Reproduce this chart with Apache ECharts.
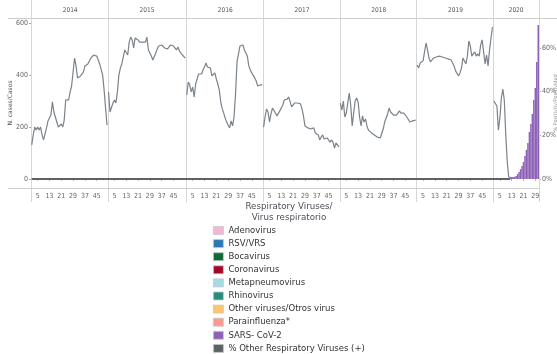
<!DOCTYPE html>
<html><head><meta charset="utf-8">
<script src="https://cdn.jsdelivr.net/npm/echarts@6/dist/echarts.min.js"></script>
<style>html,body{margin:0;padding:0;background:#fff}#c{width:557px;height:354px}</style>
</head><body><div id="c"></div>
<script>
// ---------------- DATA ----------------
const years = [2014, 2015, 2016, 2017, 2018, 2019, 2020];
const weeksPerYear = [52, 53, 52, 52, 52, 52, 31];
const tickWeeks = [5, 13, 21, 29, 37, 45];
const leftTicks = [0, 200, 400, 600];
const rightTicks = [0, 20, 40, 60];

// % line (right axis), one array per year
const pct2014 = [15.6,20.2,23.8,22.4,23.8,22.4,23.8,20.2,17.9,17.9,23.4,26.6,26.1,29.3,35.3,30.7,30.2,26.1,23.8,24.3,25.2,23.8,27.0,36.2,35.7,36.2,39.9,42.6,49.0,55.4,51.8,46.3,45.4,47.2,46.3,49.0,51.8,52.2,52.7,53.6,55.4,55.4,56.8,57.7,56.3,54.5,52.7,51.8,47.6,40.8,32.5,24.7];
const pct2015 = [39.9,30.7,31.6,34.8,36.2,34.8,39.9,47.6,50.8,52.7,55.9,59.1,58.6,56.8,62.7,65.0,63.7,60.0,64.6,63.7,63.7,62.7,62.3,62.7,61.8,62.7,65.0,59.1,58.2,56.3,54.5,53.6,57.7,59.6,60.9,60.0,61.4,60.9,60.0,60.5,59.6,59.1,61.4,60.5,60.9,61.4,59.1,60.5,58.6,59.1,56.8,57.7,55.4];
const pct2016 = [38.5,44.4,43.1,39.9,42.1,37.6,43.5,45.8,48.1,49.0,48.1,49.9,51.3,53.1,51.3,52.2,50.8,47.2,47.2,48.6,45.8,43.5,40.8,35.3,32.1,30.2,27.9,26.1,24.7,23.4,26.6,24.3,28.4,38.9,53.6,52.7,60.9,60.9,61.4,59.1,57.7,56.3,51.8,49.9,48.6,48.1,46.3,44.9,42.6,42.1,43.1,43.1];
const pct2017 = [23.8,28.4,32.1,30.7,26.1,29.8,32.5,32.1,30.2,28.9,29.8,31.2,31.6,33.9,36.2,36.2,36.6,37.6,35.3,33.0,33.9,34.8,33.9,34.8,35.3,34.4,32.1,28.9,24.3,23.4,23.4,23.8,22.9,22.4,23.4,21.1,21.5,20.2,17.9,19.2,20.2,18.3,18.3,18.8,17.9,16.9,17.9,16.9,14.2,16.5,15.6,14.7];
const pct2018 = [34.8,31.6,35.7,28.4,30.2,29.8,39.4,33.9,24.3,30.2,35.7,37.1,35.3,28.4,24.3,28.9,26.1,27.5,24.3,22.4,21.5,21.1,21.1,20.2,19.7,19.2,19.2,18.8,19.7,22.9,26.1,26.1,29.8,32.5,30.7,29.8,29.3,29.3,29.3,29.8,31.2,30.2,30.2,30.2,29.3,28.4,27.5,26.1,25.7,26.6,27.0,27.0];
const pct2019 = [52.2,50.8,53.1,53.6,54.1,58.2,62.3,59.1,55.4,53.6,54.5,55.4,55.0,55.9,55.9,56.3,56.8,55.9,55.9,55.4,55.0,55.0,55.4,54.5,53.6,51.8,49.5,48.6,47.2,48.6,50.8,55.4,56.3,52.7,56.3,63.2,60.9,56.3,55.9,58.2,56.3,57.3,56.3,61.4,63.7,58.2,52.7,56.8,51.8,59.1,64.6,69.6];
const pct2020 = [35.7,36.2,33.4,22.4,27.9,37.1,41.2,36.2,20.2,7.8,0.9,0.5,0.5,0.5,0.5];
const pctByYear = [pct2014, pct2015, pct2016, pct2017, pct2018, pct2019, pct2020];

// SARS-CoV-2 bars (left axis), 2020 from week 11
const sarsStartWeek2020 = 11;
const sarsCov2 = [2,4,4,6,8,12,19,27,38,50,65,88,112,138,181,212,250,304,350,450,592];

// zero series (% Other Respiratory Viruses) up to 2020 week 12
const otherZeroEndWeek2020 = 12;

const legendNames = ['Adenovirus','RSV/VRS','Bocavirus','Coronavirus','Metapneumovirus','Rhinovirus','Other viruses/Otros virus','Parainfluenza*','SARS- CoV-2','% Other Respiratory Viruses (+)'];
const legendColors = ['#f4b6d2','#2a78b5','#0b6a36','#9e0a28','#a3dbe8','#2a8c7c','#fcc56e','#fb9a92','#8d62b6','#5e6166'];

// ---------------- BUILD ----------------
const categories = [];
const yearStart = [];
years.forEach((y, i) => {
  yearStart.push(categories.length);
  for (let w = 1; w <= weeksPerYear[i]; w++) categories.push(y + '-' + w);
});
const total = categories.length;
const weekOf = c => +c.split('-')[1];
const yearOf = c => +c.split('-')[0];

const narrow = "Liberation Sans Narrow, DejaVu Sans Condensed, sans-serif";
const wide = "DejaVu Sans, sans-serif";

const series = [];
pctByYear.forEach((arr, i) => {
  const data = categories.map((c, idx) => {
    const k = idx - yearStart[i];
    return (k >= 0 && k < arr.length) ? arr[k] : '-';
  });
  series.push({
    name: 'pct' + years[i], type: 'line', xAxisIndex: 0, yAxisIndex: 1,
    data, showSymbol: false, symbol: 'none', connectNulls: false,
    lineStyle: { color: '#7b838b', width: 1.2 }, itemStyle: { color: '#7b838b' },
    z: 3, silent: true
  });
});

const i2020 = years.indexOf(2020);
const sarsData = categories.map((c, idx) => {
  const k = idx - yearStart[i2020] - (sarsStartWeek2020 - 1);
  return (k >= 0 && k < sarsCov2.length) ? sarsCov2[k] : '-';
});
const zeroData = categories.map((c, idx) => (idx < yearStart[i2020] + otherZeroEndWeek2020) ? 0 : '-');

legendNames.forEach((n, i) => {
  if (n === 'SARS- CoV-2') {
    series.push({ name: n, type: 'bar', xAxisIndex: 0, yAxisIndex: 0, data: sarsData,
      barCategoryGap: '0%', itemStyle: { color: legendColors[i] }, z: 4, silent: true });
  } else if (n === '% Other Respiratory Viruses (+)') {
    series.push({ name: n, type: 'line', xAxisIndex: 0, yAxisIndex: 0, data: zeroData,
      showSymbol: false, symbol: 'none', lineStyle: { color: legendColors[i], width: 2 },
      itemStyle: { color: legendColors[i] }, z: 2, silent: true });
  } else {
    // virus types with no visible marks in this period: legend entries only
    series.push({ name: n, type: 'line', xAxisIndex: 0, yAxisIndex: 0, data: [],
      itemStyle: { color: legendColors[i] }, lineStyle: { color: legendColors[i] } });
  }
});

const option = {
  animation: false,
  backgroundColor: '#fff',
  title: {
    text: 'Respiratory Viruses/\nVirus respiratorio',
    left: 289, top: 201.5, textAlign: 'center', padding: 0,
    textStyle: { fontFamily: wide, fontSize: 8.7, fontWeight: 'normal', color: '#4a4f57', lineHeight: 10.5 }
  },
  legend: {
    data: legendNames, orient: 'vertical', left: 213, top: 225.5, padding: 0,
    icon: 'rect', itemWidth: 10, itemHeight: 8, itemGap: 3.1,
    itemStyle: { borderColor: '#c8c8c8', borderWidth: 0.8 },
    textStyle: { fontFamily: wide, fontSize: 8.5, color: '#333', lineHeight: 10 },
    selectedMode: false
  },
  grid: { left: 31, right: 18, top: 18, bottom: 166, containLabel: false, outerBoundsMode: 'none' },
  xAxis: [{
    type: 'category', data: categories, position: 'bottom', boundaryGap: true,
    axisLine: { show: false },
    axisTick: { show: true, alignWithLabel: true, length: 2, lineStyle: { color: '#bbb' },
      interval: (idx, v) => tickWeeks.includes(weekOf(v)) },
    axisLabel: { interval: 0, margin: 5, fontSize: 7, fontFamily: narrow, color: '#666',
      formatter: v => tickWeeks.includes(weekOf(v)) ? String(weekOf(v)) : '' },
    splitLine: { show: false }
  }, {
    type: 'category', data: categories, position: 'top', boundaryGap: true,
    axisLine: { show: false }, axisTick: { show: false },
    axisLabel: { interval: 0, margin: 4, fontSize: 6.5, fontFamily: narrow, color: '#555',
      formatter: v => {
        const y = yearOf(v), i = years.indexOf(y);
        return weekOf(v) === Math.floor(weeksPerYear[i] / 2) + 1 ? String(y) : '';
      } }
  }],
  yAxis: [{
    type: 'value', min: -34.6, max: 619.2, position: 'left',
    name: 'N. cases/Casos', nameLocation: 'middle', nameRotate: 90, nameGap: 18, nameMoveOverlap: false,
    nameTextStyle: { fontFamily: wide, fontSize: 6, color: '#555' },
    axisLine: { show: false },
    axisTick: { show: true, length: 2, customValues: leftTicks, lineStyle: { color: '#aaa' } },
    axisLabel: { customValues: leftTicks, fontSize: 7, fontFamily: narrow, color: '#666', margin: 3 },
    splitLine: { show: false }
  }, {
    type: 'value', min: -4.12, max: 73.74, position: 'right',
    name: '% Positivity/Positividad', nameLocation: 'middle', nameRotate: 90, nameGap: 14, nameMoveOverlap: false,
    nameTextStyle: { fontFamily: wide, fontSize: 5, color: '#999' },
    axisLine: { show: false },
    axisTick: { show: true, length: 2, inside: false, customValues: rightTicks, lineStyle: { color: '#aaa' } },
    axisLabel: { customValues: rightTicks, formatter: '{value}%', fontSize: 7, fontFamily: narrow, color: '#666', margin: 3 },
    splitLine: { show: false }
  }],
  series
};

const chart = echarts.init(document.getElementById('c'), null, { renderer: 'canvas' });
chart.setOption(option);

// Frame lines derived from the category axis
const cx = idx => chart.convertToPixel({ xAxisIndex: 0 }, idx);
const band = cx(1) - cx(0);
const bx = idx => (idx >= total ? cx(total - 1) + band / 2 : cx(idx) - band / 2);
const yTop = chart.convertToPixel({ yAxisIndex: 0 }, 619.2);
const yBot = chart.convertToPixel({ yAxisIndex: 0 }, -34.6);
const gfx = [];
const bounds = yearStart.concat([total]);
bounds.forEach(b => {
  const x = Math.round(bx(b)) + 0.5;
  gfx.push({ type: 'line', silent: true, z: 1, shape: { x1: x, y1: 0, x2: x, y2: yBot + 14 }, style: { stroke: '#d6d6d6', lineWidth: 1 } });
});
gfx.push({ type: 'line', silent: true, z: 1, shape: { x1: 8, y1: Math.round(yTop) + 0.5, x2: 557, y2: Math.round(yTop) + 0.5 }, style: { stroke: '#cfcfcf', lineWidth: 1 } });
gfx.push({ type: 'line', silent: true, z: 1, shape: { x1: 8, y1: Math.round(yBot) + 0.5, x2: Math.round(bx(total)) + 0.5, y2: Math.round(yBot) + 0.5 }, style: { stroke: '#cfcfcf', lineWidth: 1 } });
chart.setOption({ graphic: gfx });
</script></body></html>
